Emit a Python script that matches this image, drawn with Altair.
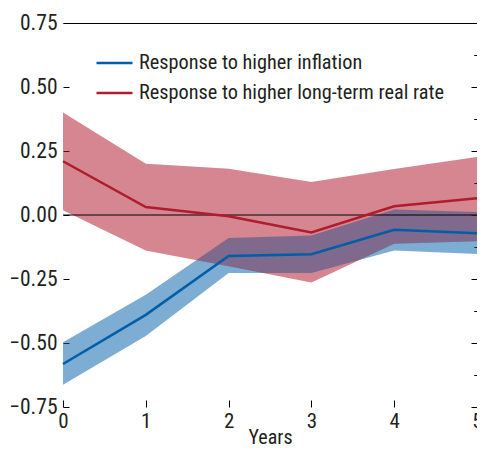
import altair as alt
import pandas as pd

years = [0, 1, 2, 3, 4, 5]
series_names = ["Response to higher inflation", "Response to higher long-term real rate"]
infl = [-0.582, -0.39, -0.16, -0.153, -0.058, -0.071]
infl_lo = [-0.663, -0.473, -0.227, -0.227, -0.139, -0.152]
infl_hi = [-0.497, -0.312, -0.09, -0.08, 0.021, 0.012]
rate = [0.21, 0.031, -0.005, -0.068, 0.034, 0.065]
rate_lo = [0.019, -0.139, -0.20, -0.264, -0.112, -0.103]
rate_hi = [0.40, 0.20, 0.181, 0.129, 0.18, 0.227]
major_ticks = [-0.75, -0.5, -0.25, 0.0, 0.25, 0.5, 0.75]
minor_ticks = [-0.625, -0.375, -0.125, 0.125, 0.375, 0.625]

BLUE = "#005ea8"
RED = "#b01c2e"
FONT = "Roboto Condensed, Liberation Sans, sans-serif"
TXT = "#231f20"

rows = []
for i, yr in enumerate(years):
    rows.append({"series": series_names[0], "year": yr, "value": infl[i], "lo": infl_lo[i], "hi": infl_hi[i]})
    rows.append({"series": series_names[1], "year": yr, "value": rate[i], "lo": rate_lo[i], "hi": rate_hi[i]})
df = pd.DataFrame(rows)

xs = alt.Scale(domain=[0, 5], nice=False, padding=0)
ys = alt.Scale(domain=[-0.75, 0.75], nice=False, padding=0)

base = alt.Chart(df)

x_major = alt.Axis(values=years, tickSize=7, offset=-7, domain=False, grid=False,
                   labelPadding=3, labelFont=FONT, labelFontSize=21, labelColor=TXT,
                   title="Years", titleFont=FONT, titleFontSize=20, titleFontWeight="normal",
                   titleColor=TXT, titlePadding=-4, tickColor="#000", labelFlush=False)
x_domain = alt.Axis(domain=True, ticks=False, labels=False, grid=False, title=None, domainColor="#000")
y_major_l = alt.Axis(values=major_ticks, format=".2f", tickSize=6, offset=-6, domain=False, grid=False,
                     labelPadding=6, labelFont=FONT, labelFontSize=21.5, labelColor=TXT, title=None,
                     tickColor="#000")
y_minor_l = alt.Axis(values=minor_ticks, tickSize=3, offset=-3, domain=False, grid=False, labels=False,
                     title=None, tickColor="#000")
y_major_r = alt.Axis(orient="right", values=major_ticks, tickSize=6, offset=-6, domain=False, grid=False,
                     labels=False, title=None, tickColor="#000")
y_minor_r = alt.Axis(orient="right", values=minor_ticks, tickSize=3, offset=-3, domain=False, grid=False,
                     labels=False, title=None, tickColor="#000")

red_band1 = base.transform_filter(alt.datum.series == series_names[1]).mark_area(
    fill=RED, fillOpacity=0.373, strokeWidth=0).encode(
    x=alt.X("year:Q", scale=xs, axis=x_major),
    y=alt.Y("lo:Q", scale=ys, axis=y_major_l),
    y2="hi:Q")
blue_band = base.transform_filter(alt.datum.series == series_names[0]).mark_area(
    fill=BLUE, fillOpacity=0.51, strokeWidth=0).encode(
    x=alt.X("year:Q", scale=xs, axis=x_domain),
    y=alt.Y("lo:Q", scale=ys, axis=y_minor_l),
    y2="hi:Q")
red_band2 = base.transform_filter(alt.datum.series == series_names[1]).mark_area(
    fill=RED, fillOpacity=0.25, strokeWidth=0).encode(
    x=alt.X("year:Q", scale=xs, axis=None),
    y=alt.Y("lo:Q", scale=ys, axis=y_major_r),
    y2="hi:Q")
zero = alt.Chart(pd.DataFrame({"zero": [0.0]})).mark_rule(color="#000", strokeWidth=1).encode(
    y=alt.Y("zero:Q", scale=ys, axis=y_minor_r))
lines = base.mark_line(strokeWidth=2.5).encode(
    x=alt.X("year:Q", scale=xs, axis=None),
    y=alt.Y("value:Q", scale=ys, axis=None),
    color=alt.Color("series:N", scale=alt.Scale(domain=series_names, range=[BLUE, RED]),
                    legend=alt.Legend(orient="none", legendX=32, legendY=20.5, title=None,
                                      symbolType="stroke", symbolSize=1296, symbolStrokeWidth=2.5,
                                      labelFont=FONT, labelFontSize=20.3, labelColor=TXT,
                                      labelOffset=5, rowPadding=-15, padding=0,
                                      labelLimit=0)))

chart = alt.layer(red_band1, blue_band, red_band2, zero, lines).resolve_axis(
    x="independent", y="independent").properties(
    width=414, height=384,
    autosize=alt.AutoSizeParams(type="none"),
    padding={"left": 55, "top": 15, "right": 0, "bottom": 44},
    background="white",
).configure_view(stroke=None)

chart.save("out.html", embed_options={"renderer": "svg", "actions": False})
